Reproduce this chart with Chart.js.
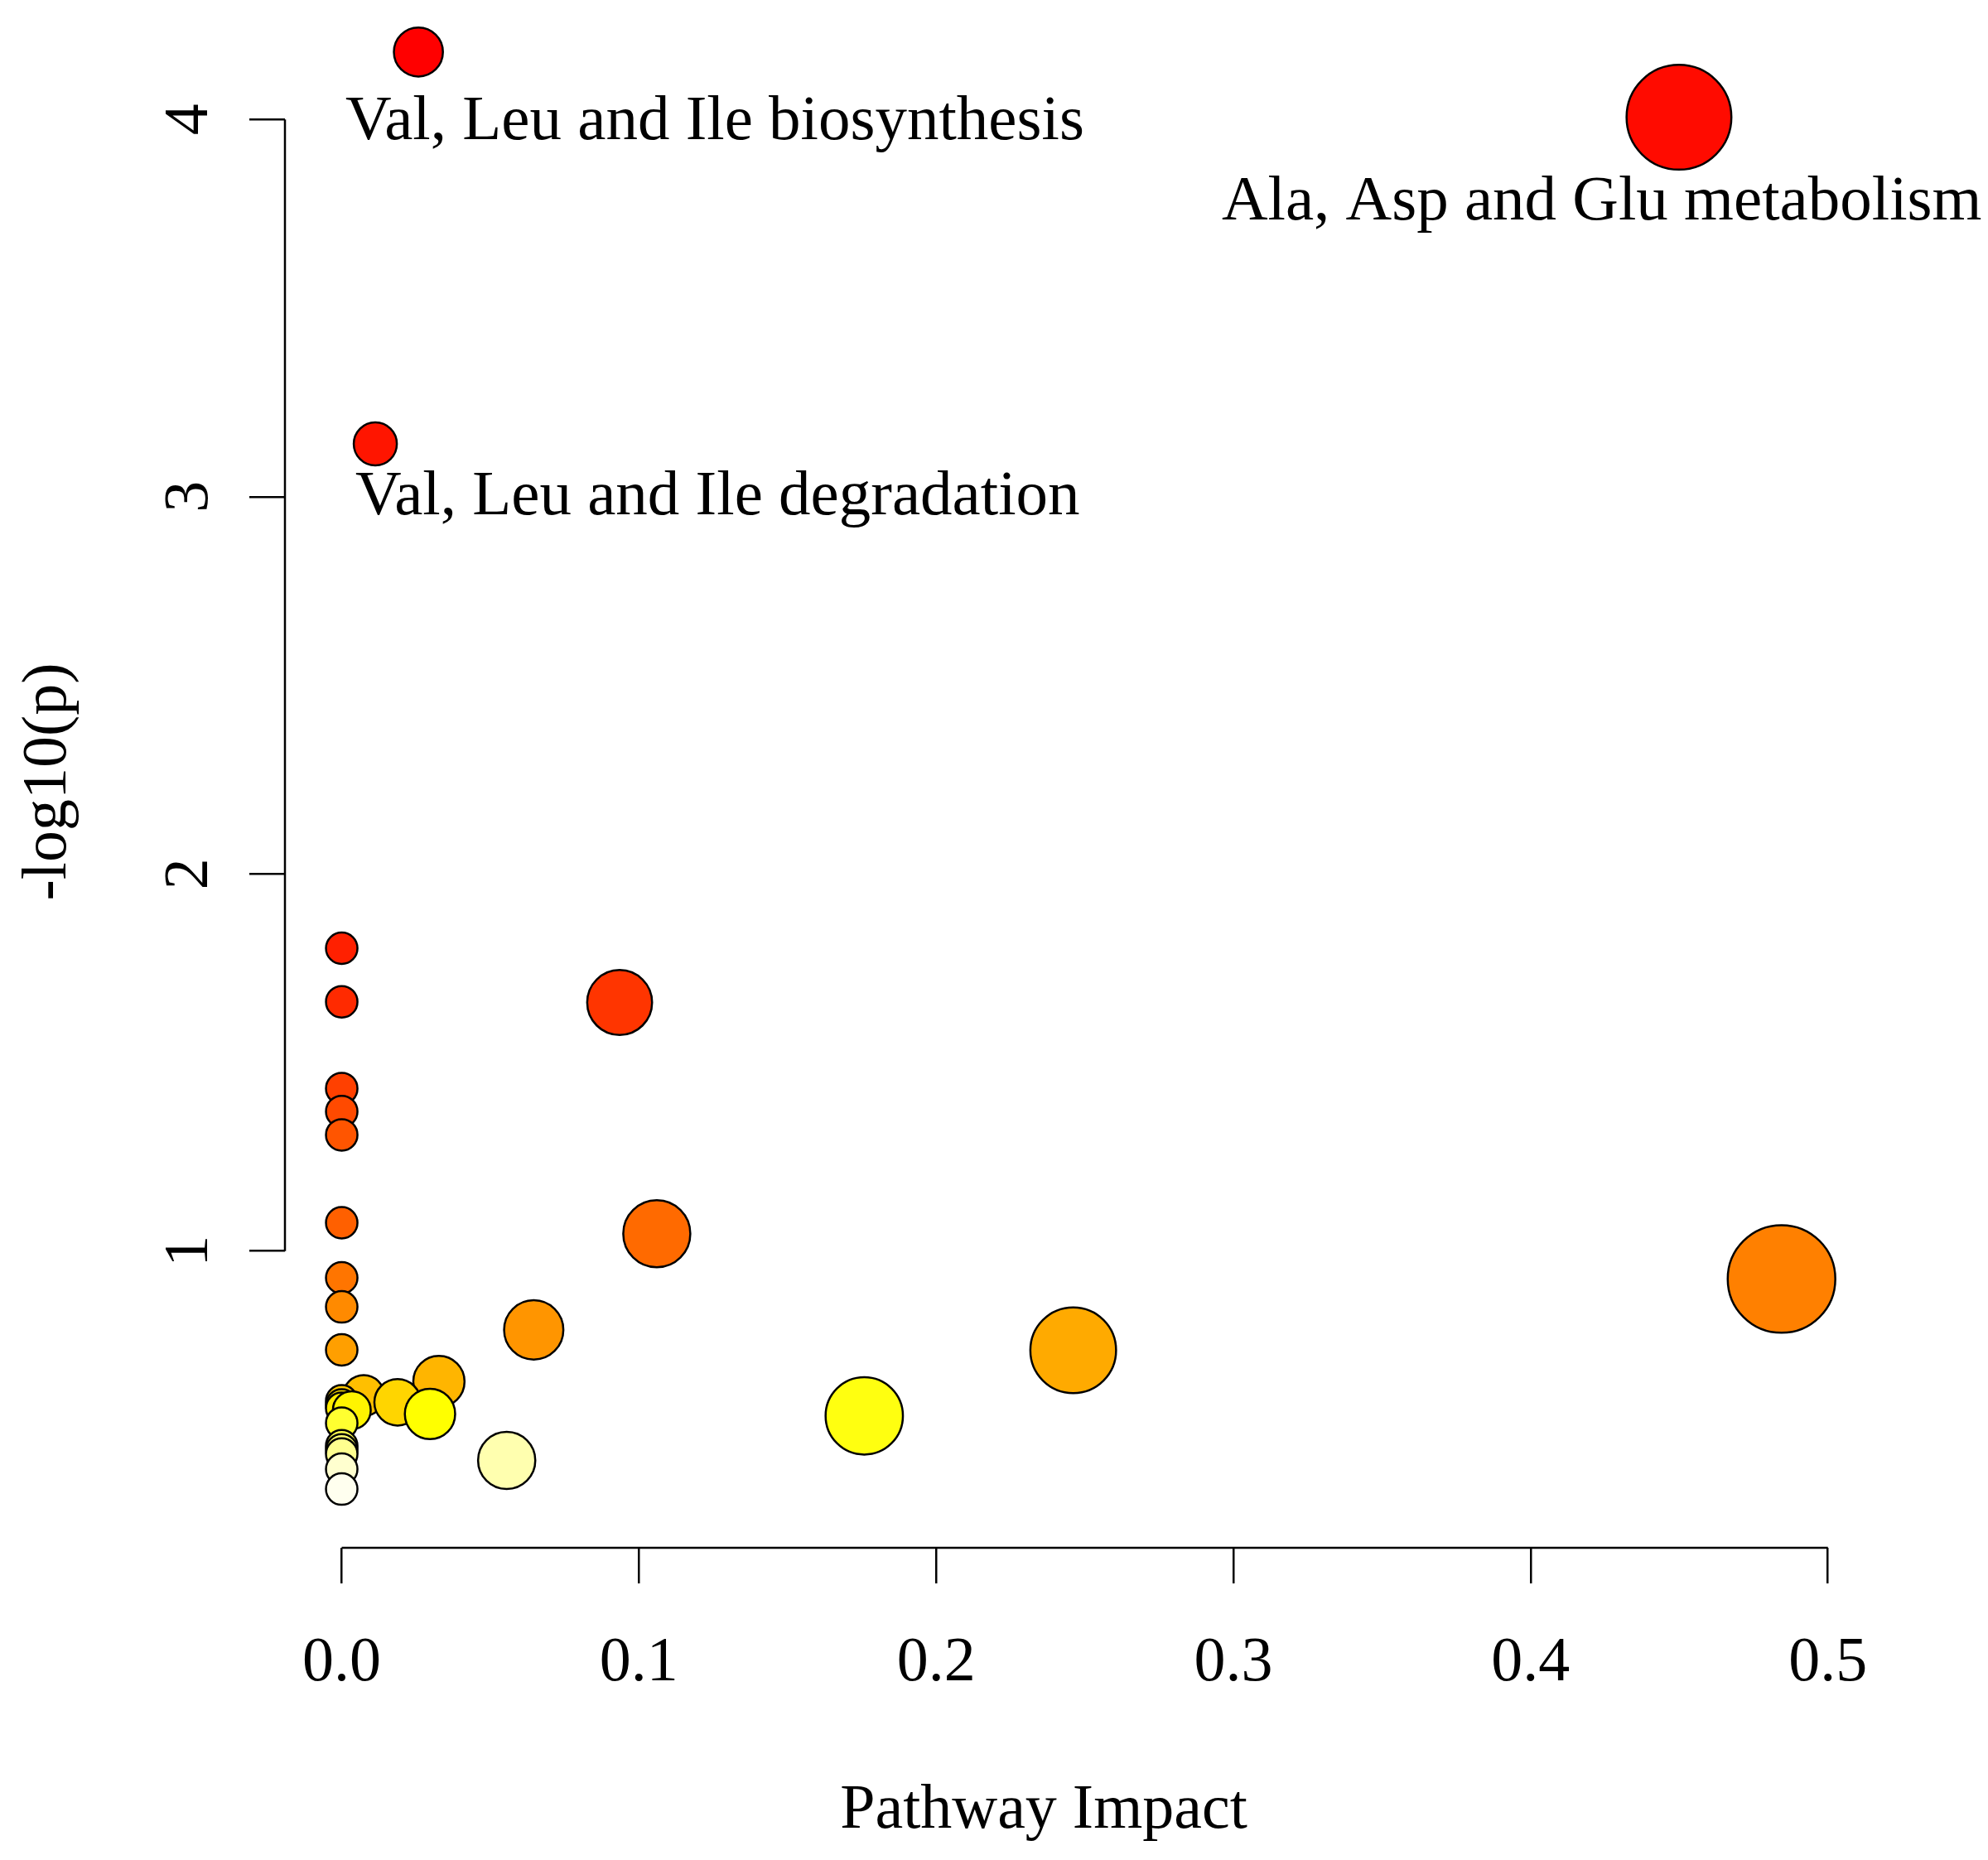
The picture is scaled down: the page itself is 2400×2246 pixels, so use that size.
<!DOCTYPE html>
<html>
<head>
<meta charset="utf-8">
<script src="https://cdn.jsdelivr.net/npm/chart.js@4.4.1/dist/chart.umd.min.js"></script>
<style>
    html, body { margin: 0; padding: 0; background: #fff; }
    #wrap { width: 2400px; height: 2246px; position: relative; }
</style>
</head>
<body>
<div id="wrap"><canvas id="grafico-vias"></canvas></div>
<script>
// pathways sorted from most to least significant (the heat colour follows this order)
const impact = [0.0258, 0.4499, 0.0113, 0, 0, 0.0935, 0, 0, 0, 0, 0.106, 0, 0.4844, 0, 0.0646, 0, 0.2461, 0.0327,
                0.0074, 0, 0.0188, 0, 0, 0.0034, 0.0297, 0.1758, 0, 0, 0, 0, 0.0555, 0, 0];
const logP = [4.179, 4.006, 3.140, 1.803, 1.661, 1.659, 1.431, 1.370, 1.308, 1.075, 1.046, 0.929, 0.926, 0.852, 0.791, 0.738, 0.737, 0.654,
              0.617, 0.603, 0.599, 0.592, 0.583, 0.578, 0.568, 0.563, 0.544, 0.484, 0.473, 0.462, 0.445, 0.422, 0.369];

const labelIndex = [0, 1, 2];
const labelText = ['Val, Leu and Ile biosynthesis', 'Ala, Asp and Glu metabolism', 'Val, Leu and Ile degradation'];

const ticksX = [0, 0.1, 0.2, 0.3, 0.4, 0.5];
const ticksY = [1, 2, 3, 4];

const fonte = '"Liberation Serif", "Times New Roman", serif';

// R's heat.colors()
function hsv(h, s, v) {
    const i = Math.floor(h * 6) % 6;
    const f = h * 6 - Math.floor(h * 6);
    const p = v * (1 - s), q = v * (1 - s * f), t = v * (1 - s * (1 - f));
    const rgb = [[v, t, p], [q, v, p], [p, v, t], [p, q, v], [t, p, v], [v, p, q]][i];
    return '#' + rgb.map(c => Math.round(c * 255).toString(16).padStart(2, '0')).join('');
}

function heatColors(n) {
    const j = Math.floor(n / 4);
    const i = n - j;
    const cols = [];
    for (let k = 0; k < i; k++) {
        cols.push(hsv((k / (i - 1)) / 6, 1, 1));
    }
    const s0 = 1 - 1 / (2 * j), s1 = 1 / (2 * j);
    for (let k = 0; k < j; k++) {
        const s = j === 1 ? s0 : s0 + k * (s1 - s0) / (j - 1);
        cols.push(hsv(1 / 6, s, 1));
    }
    return cols;
}

// circle size grows with sqrt(impact)
function bubbleRadius(v) {
    return 19 + 66 * Math.sqrt(v);
}

const eixosR = {
    id: 'eixosR',
    afterDraw(chart, args, opts) {
        const { ctx, chartArea, scales } = chart;
        const x = scales.x, y = scales.y;

        ctx.save();
        ctx.strokeStyle = '#000';
        ctx.lineWidth = 2.5;
        ctx.beginPath();
        ctx.moveTo(x.getPixelForValue(ticksX[0]), chartArea.bottom);
        ctx.lineTo(x.getPixelForValue(ticksX[ticksX.length - 1]), chartArea.bottom);
        ctx.moveTo(chartArea.left, y.getPixelForValue(ticksY[0]));
        ctx.lineTo(chartArea.left, y.getPixelForValue(ticksY[ticksY.length - 1]));
        ctx.stroke();

        ctx.fillStyle = '#000';
        ctx.font = '76px ' + fonte;
        ctx.textAlign = 'center';
        ctx.textBaseline = 'alphabetic';

        ticksY.forEach(v => {
            ctx.save();
            ctx.translate(chartArea.left - 94, y.getPixelForValue(v));
            ctx.rotate(-Math.PI / 2);
            ctx.fillText(String(v), 0, 0);
            ctx.restore();
        });

        ctx.save();
        ctx.translate(79, 944);
        ctx.rotate(-Math.PI / 2);
        ctx.fillText('-log10(p)', 0, 0);
        ctx.restore();

        ctx.fillText('Pathway Impact', 1260, 2207);

        const meta = chart.getDatasetMeta(0);
        ctx.font = '77px ' + fonte;
        ctx.textAlign = 'left';
        labelIndex.forEach((k, n) => {
            const p = meta.data[k];
            ctx.fillText(labelText[n], p.x + opts.offsets[n][0], p.y + opts.offsets[n][1]);
        });
        ctx.restore();
    }
};

const ctx = document.getElementById('grafico-vias');

new Chart(ctx, {
    type: 'bubble',
    data: {
        datasets: [{
            data: impact.map((v, k) => ({ x: v, y: logP[k], r: bubbleRadius(v) })),
            backgroundColor: heatColors(impact.length),
            borderColor: '#000',
            borderWidth: 2.5,
            clip: false
        }]
    },
    options: {
        responsive: true,
        maintainAspectRatio: false,
        animation: false,
        events: [],
        layout: {
            autoPadding: false,
            padding: { top: 8, right: 100, bottom: 0, left: 0 }
        },
        plugins: {
            legend: { display: false },
            tooltip: { enabled: false },
            eixosR: {
                offsets: [[-88, 105], [-552, 123], [-24, 85]]
            }
        },
        scales: {
            x: {
                type: 'linear',
                min: -0.0191,
                max: 0.526,
                afterBuildTicks: s => { s.ticks = ticksX.map(v => ({ value: v })); },
                afterFit: s => { s.height = 377; },
                grid: { drawOnChartArea: false, drawTicks: true, tickLength: 43, color: '#000', lineWidth: 2.5 },
                border: { display: false },
                ticks: {
                    color: '#000',
                    font: { family: fonte, size: 76 },
                    padding: 51,
                    maxRotation: 0,
                    autoSkip: false,
                    callback: v => v.toFixed(1)
                }
            },
            y: {
                type: 'linear',
                min: 0.2133,
                max: 4.2993,
                afterBuildTicks: s => { s.ticks = ticksY.map(v => ({ value: v })); },
                afterFit: s => { s.width = 344; },
                grid: { drawOnChartArea: false, drawTicks: true, tickLength: 43, color: '#000', lineWidth: 2.5 },
                border: { display: false },
                ticks: { display: false }
            }
        }
    },
    plugins: [eixosR]
});
</script>
</body>
</html>
